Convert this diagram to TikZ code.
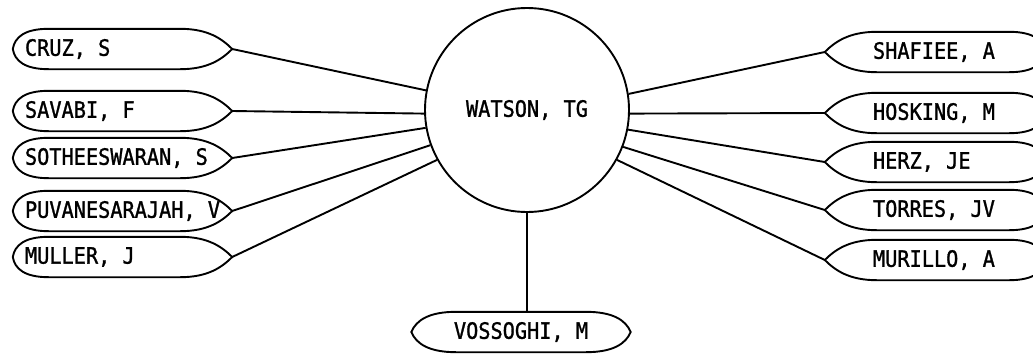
\documentclass[tikz,border=0pt]{standalone}
\usepackage{fontspec}
\newfontfamily\plotfont[FakeStretch=0.9,FakeBold=1.2]{DejaVu Sans Mono}
\newcommand{\lt}[1]{\makebox[195pt][l]{#1}}
\newcommand{\rt}[1]{\makebox[124pt][l]{#1}}
\begin{document}
\begin{tikzpicture}[x=1pt,y=-1pt,
  every node/.style={font=\plotfont\fontsize{22.5}{26}\selectfont, inner sep=0pt},
  person/.style={minimum width=219pt, minimum height=40pt},
  rperson/.style={minimum width=220pt, minimum height=40pt},
  lensline/.style={line width=1.9pt, line join=round},
  link/.style={line width=1.9pt}]
\useasboundingbox (0,0) rectangle (1033,354);
\node[circle, draw, line width=1.9pt, minimum size=204pt] (w) at (527,110) {WATSON, TG};
% left
\node[person] (cruz)   at (122.5,49)  {\lt{CRUZ, S}};
\node[person] (savabi) at (122.5,111) {\lt{SAVABI, F}};
\node[person] (soth)   at (122.5,158) {\lt{SOTHEESWARAN, S}};
\node[person] (puv)    at (122.5,211) {\lt{PUVANESARAJAH, V}};
\node[person] (muller) at (122.5,257) {\lt{MULLER, J}};
% right
\node[rperson] (shafiee) at (935,52)  {\rt{SHAFIEE, A}};
\node[rperson] (hosking) at (935,113) {\rt{HOSKING, M}};
\node[rperson] (herz)    at (935,162) {\rt{HERZ, JE}};
\node[rperson] (torres)  at (935,210) {\rt{TORRES, JV}};
\node[rperson] (murillo) at (935,260) {\rt{MURILLO, A}};
% bottom
\node[person] (voss) at (521,332) {VOSSOGHI, M};
% outlines
\foreach \n in {cruz,savabi,soth,puv,muller}
  \draw[lensline] (\n.west) .. controls ([xshift=2pt,yshift=12pt]\n.west) and ([xshift=12pt]\n.north west) .. ([xshift=36pt]\n.north west)
    -- ([xshift=-52pt]\n.north east) .. controls ([xshift=-24pt]\n.north east) and ([xshift=-10pt,yshift=10pt]\n.east) .. (\n.east)
    .. controls ([xshift=-10pt,yshift=-10pt]\n.east) and ([xshift=-24pt]\n.south east) .. ([xshift=-52pt]\n.south east)
    -- ([xshift=36pt]\n.south west) .. controls ([xshift=12pt]\n.south west) and ([xshift=2pt,yshift=-12pt]\n.west) .. cycle;
\foreach \n in {shafiee,hosking,herz,torres,murillo}
  \draw[lensline] (\n.east) .. controls ([xshift=-2pt,yshift=12pt]\n.east) and ([xshift=-12pt]\n.north east) .. ([xshift=-36pt]\n.north east)
    -- ([xshift=52pt]\n.north west) .. controls ([xshift=24pt]\n.north west) and ([xshift=10pt,yshift=10pt]\n.west) .. (\n.west)
    .. controls ([xshift=10pt,yshift=-10pt]\n.west) and ([xshift=24pt]\n.south west) .. ([xshift=52pt]\n.south west)
    -- ([xshift=-36pt]\n.south east) .. controls ([xshift=-12pt]\n.south east) and ([xshift=-2pt,yshift=-12pt]\n.east) .. cycle;
\foreach \n in {voss}
  \draw[lensline] (\n.west) .. controls ([xshift=5pt,yshift=12pt]\n.west) and ([xshift=18pt]\n.north west) .. ([xshift=45pt]\n.north west)
    -- ([xshift=-45pt]\n.north east) .. controls ([xshift=-18pt]\n.north east) and ([xshift=-5pt,yshift=12pt]\n.east) .. (\n.east)
    .. controls ([xshift=-5pt,yshift=-12pt]\n.east) and ([xshift=-18pt]\n.south east) .. ([xshift=-45pt]\n.south east)
    -- ([xshift=45pt]\n.south west) .. controls ([xshift=18pt]\n.south west) and ([xshift=5pt,yshift=-12pt]\n.west) .. cycle;
% connectors
\draw[link] (cruz.east)   -- (w.169);
\draw[link] (savabi.east) -- (w.182);
\draw[link] (soth.east)   -- (w.190);
\draw[link] (puv.east)    -- (w.200);
\draw[link] (muller.east) -- (w.209);
\draw[link] (shafiee.west) -- (w.9);
\draw[link] (hosking.west) -- (w.358);
\draw[link] (herz.west)    -- (w.349);
\draw[link] (torres.west)  -- (w.339);
\draw[link] (murillo.west) -- (w.331);
\draw[link] (w.south) -- (w.south |- voss.north);
\end{tikzpicture}
\end{document}
